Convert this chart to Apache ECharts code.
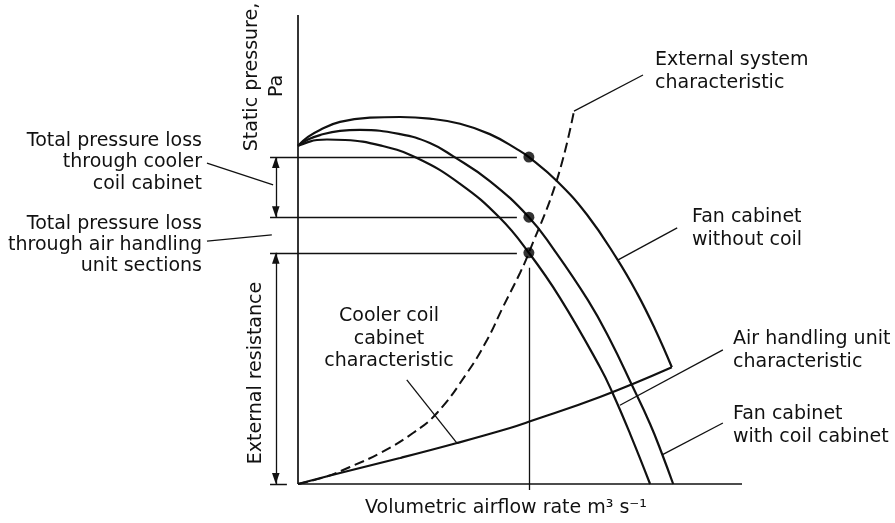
<!DOCTYPE html>
<html>
<head>
<meta charset="utf-8">
<script src="https://cdn.jsdelivr.net/npm/echarts@6/dist/echarts.min.js"></script>
<style>
  html, body { margin: 0; padding: 0; background: #fff; }
  #chart { width: 895px; height: 523px; }
</style>
</head>
<body>
<div id="chart"></div>
<script>
// Schematic units: airflow 0–100 along x, static pressure 0–100 along y.

// Fan curves [airflow, static pressure]
const fanWithoutCoil = [
  [0, 72.1], [2.25, 74.0], [4.95, 75.5], [9.46, 77.2], [16.2, 78.1], [23.0, 78.25],
  [29.7, 77.9], [36.5, 76.8], [43.2, 74.6], [49.3, 71.4], [52.0, 69.7], [58.3, 64.6],
  [65.1, 57.4], [71.85, 48.0], [76.35, 40.7], [80.4, 33.05], [84.2, 24.9]
];
const fanWithCoilCabinet = [
  [0, 72.1], [2.25, 73.45], [4.95, 74.4], [9.46, 75.3], [13.96, 75.5], [23.0, 74.6],
  [29.7, 72.7], [34.9, 69.9], [43.2, 64.6], [52.0, 56.9], [57.4, 50.3], [65.3, 39.2],
  [70.3, 30.7], [75.2, 21.1], [79.3, 12.8], [82.0, 6.4], [84.5, 0]
];
const airHandlingUnit = [
  [0, 72.1], [2.25, 72.9], [4.28, 73.35], [6.53, 73.45], [10.6, 73.35], [18.5, 72.2],
  [26.8, 69.5], [36.5, 64.0], [45.5, 56.7], [52.0, 49.3], [59.0, 39.7], [68.0, 24.95],
  [70.95, 19.2], [74.8, 10.7], [79.3, 0]
];
// Resistance curves
const coolerCoilCabinet = [
  [0, 0], [9.46, 2.35], [22.97, 5.54], [35.8, 8.74], [47.75, 11.94], [51.8, 13.22],
  [68.0, 18.55], [84.2, 24.9]
];
const externalSystem = [
  [0, 0], [6.08, 1.49], [11.7, 3.62], [18.5, 6.61], [25.9, 10.87], [31.3, 15.14],
  [38.06, 23.67], [42.57, 30.7], [46.17, 37.74], [50.0, 45.0], [52.0, 49.3],
  [58.3, 64.8], [62.16, 79.5]
];

// Operating points: one airflow, three pressures
const operatingFlow = 52.0;
const operatingPressures = [69.7, 56.9, 49.3];

// Reference positions along the axes
const axisMax = 100;
const dimensionX = -5.0;     // airflow of the dimension arrows
const ruleStartX = -6.3;     // left end of the pressure rules
const ruleEndX = 49.3;       // right end of the pressure rules

// Leader lines from captions to curves
const leaders = [
  [[24.5, 22.2], [35.8, 8.7]],     // cooler coil cabinet characteristic
  [[72.5, 16.8], [95.7, 28.6]],    // air handling unit characteristic
  [[82.0, 6.2], [95.7, 13.0]],     // fan cabinet with coil cabinet
  [[72.1, 47.8], [85.4, 54.6]],    // fan cabinet without coil
  [[62.16, 79.5], [77.7, 87.2]],   // external system characteristic
  [[-20.5, 68.4], [-5.6, 63.8]],   // loss through cooler coil cabinet
  [[-20.5, 51.8], [-5.9, 53.1]]    // loss through AHU sections
];

const INK = '#111';
const FONT = '19px "DejaVu Sans"';

const thinSegments = [];
// pressure rules at each operating pressure
operatingPressures.forEach(p => thinSegments.push({ coords: [[ruleStartX, p], [ruleEndX, p]] }));
// short rule at zero pressure, operating airflow drop line
thinSegments.push({ coords: [[ruleStartX, 0], [-2.5, 0]] });
thinSegments.push({ coords: [[operatingFlow, 46.1], [operatingFlow, -1.3]] });
// dimension shafts
thinSegments.push({ coords: [[dimensionX, operatingPressures[0]], [dimensionX, operatingPressures[1]]] });
thinSegments.push({ coords: [[dimensionX, operatingPressures[2]], [dimensionX, 0]] });
leaders.forEach(c => thinSegments.push({ coords: c }));

// arrow heads: [x, tip y, direction (1 up, -1 down)]
const arrowHeads = [
  [dimensionX, operatingPressures[0], 1],
  [dimensionX, operatingPressures[1], -1],
  [dimensionX, operatingPressures[2], 1],
  [dimensionX, 0, -1]
];

const chart = echarts.init(document.getElementById('chart'), null, { renderer: 'canvas' });

function curve(data, extra) {
  return Object.assign({
    type: 'line', data: data, symbol: 'none', smooth: 0.45,
    lineStyle: { color: INK, width: 2.2 }, silent: true, z: 3
  }, extra || {});
}

function text(str, x, y, opts) {
  opts = opts || {};
  return {
    type: 'text', x: x, y: y, rotation: opts.rotation || 0, silent: true,
    style: {
      text: str, font: FONT, fill: INK,
      align: opts.align || 'left', verticalAlign: 'middle',
      textAlign: opts.align || 'left', textVerticalAlign: 'middle',
      lineHeight: opts.lineHeight || 22
    }
  };
}

chart.setOption({
  animation: false,
  backgroundColor: '#fff',
  grid: { left: 31.6, top: 15, width: 843.6, height: 506.52 },
  xAxis: { type: 'value', min: -60, max: 130, show: false },
  yAxis: { type: 'value', min: -8, max: 100, show: false },
  series: [
    // axes
    {
      type: 'lines', coordinateSystem: 'cartesian2d', silent: true, z: 2,
      lineStyle: { color: INK, width: 1.7, opacity: 1 },
      data: [
        { coords: [[0, 0], [0, axisMax]] },
        { coords: [[0, 0], [axisMax, 0]] }
      ]
    },
    {
      type: 'lines', coordinateSystem: 'cartesian2d', silent: true, z: 2,
      lineStyle: { color: INK, width: 1.3, opacity: 1 },
      data: thinSegments
    },
    curve(fanWithoutCoil),
    curve(fanWithCoilCabinet),
    curve(airHandlingUnit),
    curve(coolerCoilCabinet),
    curve(externalSystem, { lineStyle: { color: INK, width: 2, type: [10, 5] } }),
    {
      type: 'scatter', symbol: 'circle', symbolSize: 11, silent: true, z: 5,
      itemStyle: { color: '#000' },
      data: operatingPressures.map(p => [operatingFlow, p])
    },
    {
      type: 'custom', coordinateSystem: 'cartesian2d', silent: true, z: 5,
      data: arrowHeads,
      renderItem: function (params, api) {
        const p = api.coord([api.value(0), api.value(1)]);
        const d = api.value(2);
        const L = 11, W = 3.8;
        return {
          type: 'polygon',
          shape: { points: [[p[0], p[1]], [p[0] - W, p[1] + d * L], [p[0] + W, p[1] + d * L]] },
          style: { fill: INK }
        };
      }
    }
  ],
  graphic: [
    text('Static pressure,', 252, 77, { rotation: Math.PI / 2, align: 'center' }),
    text('Pa', 277, 86, { rotation: Math.PI / 2, align: 'center' }),
    text('External resistance', 256, 373, { rotation: Math.PI / 2, align: 'center' }),
    text('Total pressure loss\nthrough cooler\ncoil cabinet', 202, 162.5, { align: 'right', lineHeight: 21.5 }),
    text('Total pressure loss\nthrough air handling\nunit sections', 202, 245, { align: 'right', lineHeight: 21 }),
    text('External system\ncharacteristic', 655, 71.5, { lineHeight: 23 }),
    text('Fan cabinet\nwithout coil', 692, 228.5, { lineHeight: 23 }),
    text('Air handling unit\ncharacteristic', 733, 350.5, { lineHeight: 23 }),
    text('Fan cabinet\nwith coil cabinet', 733, 425.5, { lineHeight: 23 }),
    text('Cooler coil\ncabinet\ncharacteristic', 389, 339, { align: 'center', lineHeight: 22.5 }),
    text('Volumetric airflow rate m\u00B3 s\u207B\u00B9', 506, 508, { align: 'center' })
  ]
});
</script>
</body>
</html>
